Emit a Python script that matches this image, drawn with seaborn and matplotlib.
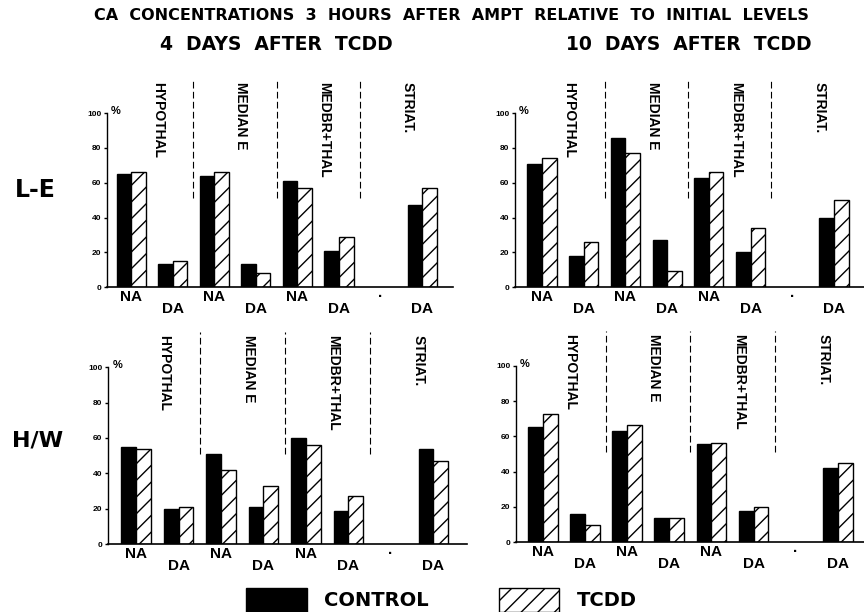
import numpy as np
import pandas as pd
import matplotlib
matplotlib.use("Agg")
import matplotlib.pyplot as plt
import seaborn as sns
from matplotlib.patches import Patch

sns.set_style("white", {"axes.edgecolor": "black", "text.color": "black",
                        "xtick.color": "black", "ytick.color": "black",
                        "axes.labelcolor": "black"})
plt.rcParams["font.family"] = ["Liberation Sans", "DejaVu Sans"]
plt.rcParams["font.weight"] = "bold"
plt.rcParams["hatch.linewidth"] = 1.0

# ***** data ***** #
slots = ["HYP_NA", "HYP_DA", "MED_NA", "MED_DA", "MBT_NA", "MBT_DA", "STR_NA", "STR_DA"]
tick_labels = ["NA", "DA", "NA", "DA", "NA", "DA", "·", "DA"]
regions = ["HYPOTHAL", "MEDIAN E", "MEDBR+THAL", "STRIAT."]
groups = ["CONTROL", "TCDD"]

le_4d_control = [65, 13, 64, 13, 61, 21, np.nan, 47]
le_4d_tcdd = [66, 15, 66, 8, 57, 29, np.nan, 57]
le_10d_control = [71, 18, 86, 27, 63, 20, np.nan, 40]
le_10d_tcdd = [74, 26, 77, 9, 66, 34, np.nan, 50]
hw_4d_control = [55, 20, 51, 21, 60, 18.5, np.nan, 54]
hw_4d_tcdd = [54, 21, 42, 33, 56, 27, np.nan, 47]
hw_10d_control = [65.5, 16, 63, 13.5, 56, 18, np.nan, 42]
hw_10d_tcdd = [72.5, 10, 66.5, 13.5, 56.5, 20, np.nan, 45]

panels = [
    (le_4d_control, le_4d_tcdd, [0.1238, 0.531, 0.4005, 0.284], (-0.58, 7.74)),
    (le_10d_control, le_10d_tcdd, [0.596, 0.531, 0.404, 0.284], (-0.65, 7.72)),
    (hw_4d_control, hw_4d_tcdd, [0.125, 0.111, 0.4155, 0.289], (-0.66, 7.79)),
    (hw_10d_control, hw_10d_tcdd, [0.597, 0.114, 0.403, 0.288], (-0.64, 7.62)),
]

fig = plt.figure(figsize=(8.64, 6.12), dpi=100)

for control, tcdd, rect, xlim in panels:
    ax = fig.add_axes(rect)
    df = pd.DataFrame({
        "slot": slots * 2,
        "group": ["CONTROL"] * len(slots) + ["TCDD"] * len(slots),
        "value": list(control) + list(tcdd),
    })
    sns.barplot(data=df, x="slot", y="value", hue="group", order=slots,
                hue_order=groups, palette={"CONTROL": "black", "TCDD": "white"},
                edgecolor="black", linewidth=1, width=0.7, gap=0,
                legend=False, ax=ax)
    for bar in ax.containers[1]:
        bar.set_hatch("//")

    ax.set_xlim(*xlim)
    ax.set_ylim(0, 100)
    ax.set_yticks([0, 20, 40, 60, 80, 100])
    ax.set_yticklabels(["0", "20", "40", "60", "80", "100"], fontsize=6, fontweight="bold")
    ax.tick_params(axis="y", length=2, width=1, pad=2, left=True)
    ax.set_xticks([])
    ax.set_xlabel("")
    ax.set_ylabel("")
    sns.despine(ax=ax)
    ax.spines["left"].set_linewidth(1)
    ax.spines["bottom"].set_linewidth(1.2)
    ax.text(0.012, 0.985, "%", transform=ax.transAxes, fontsize=8,
            fontweight="bold", va="bottom", ha="left")

    # staggered NA / DA labels
    tr = ax.get_xaxis_transform()
    for i, lab in enumerate(tick_labels):
        y = -0.125 if lab == "DA" else -0.055
        ax.text(i, y, lab, transform=tr, ha="center", va="center",
                fontsize=11, fontweight="bold", clip_on=False)

    # region separators and names
    for xs in [1.5, 3.5, 5.5]:
        ax.plot([xs, xs], [51, 120], color="black", lw=0.8,
                ls=(0, (6, 3)), clip_on=False)
    for i, reg in enumerate(regions):
        ax.text(2 * i + 0.65, 118, reg, rotation=-90, ha="center", va="top",
                fontsize=10, fontweight="bold", clip_on=False)

head = {"family": ["DejaVu Sans"], "weight": "bold"}
fig.text(0.523, 0.975, "CA  CONCENTRATIONS  3  HOURS  AFTER  AMPT  RELATIVE  TO  INITIAL  LEVELS",
         ha="center", va="center", fontsize=11.5, fontdict=head)
fig.text(0.32, 0.927, "4  DAYS  AFTER  TCDD", ha="center", va="center",
         fontsize=13.5, fontdict=head)
fig.text(0.797, 0.927, "10  DAYS  AFTER  TCDD", ha="center", va="center",
         fontsize=13.5, fontdict=head)
fig.text(0.041, 0.69, "L-E", ha="center", va="center", fontsize=17, fontdict=head)
fig.text(0.043, 0.281, "H/W", ha="center", va="center", fontsize=16, fontdict=head)

handles = [Patch(facecolor="black", edgecolor="black", label="CONTROL"),
           Patch(facecolor="white", edgecolor="black", hatch="//", label="TCDD")]
fig.legend(handles=handles, loc="center", bbox_to_anchor=(0.511, 0.0196), ncol=2,
           frameon=False, handlelength=3.1, handleheight=1.45,
           handletextpad=0.9, columnspacing=3.6,
           prop={"family": ["DejaVu Sans"], "weight": "bold", "size": 14})

plt.savefig("out.png", dpi=100)
